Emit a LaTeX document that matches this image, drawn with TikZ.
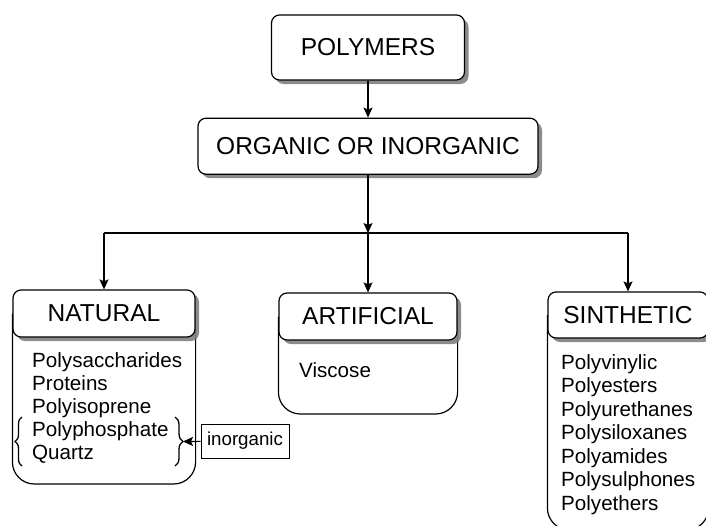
\documentclass[tikz,border=0pt]{standalone}
\usepackage{fontspec}
\setmainfont{Liberation Sans}
\usetikzlibrary{positioning, arrows.meta, shadows, backgrounds, decorations.pathreplacing}
\tikzset{
>={Stealth[length=10pt,width=9pt,inset=2pt]}, % makes the arrow heads bold
link/.style={->, line width=1.2pt}, % connectors between the boxes
head/.style={draw, fill=white, line width=1.2pt, rounded corners=8pt,
  drop shadow={shadow xshift=4pt, shadow yshift=-4pt, fill=black!50, opacity=.9},
  font=\fontsize{24.5}{28}\selectfont}, % sets the properties for each title box
body/.style={line width=1.2pt, rounded corners=22pt}, % the open box under a title
item/.style={font=\fontsize{20.6}{23}\selectfont, inner sep=0pt, anchor=base west}, % one line of a list
}

\begin{document}
\begin{tikzpicture}[x=1pt, y=-1pt]
    \useasboundingbox (0,0) rectangle (706,525);
    \clip (0,0) rectangle (706,525);

    \node[head, minimum width=193pt, minimum height=65pt] (poly) at (368,47.5) {POLYMERS};
    \node[head, minimum width=340pt, minimum height=56pt, below=37pt of poly] (org) {ORGANIC OR INORGANIC};
    \coordinate (split) at (368,233);

    \node[head, minimum width=182pt, minimum height=47pt] (nat) at (104,313.5) {NATURAL};
    \node[head, minimum width=178pt, minimum height=47pt] (art) at (368,316.5) {ARTIFICIAL};
    \node[head, minimum width=160pt, minimum height=46pt] (sin) at (628,315) {SINTHETIC};

    \begin{scope}[on background layer]
    \draw[body] (nat.west) -- (nat.west |- 0,484) -- (nat.east |- 0,484) -- (nat.east);
    \draw[body] (art.west) -- (art.west |- 0,414) -- (art.east |- 0,414) -- (art.east);
    \draw[body] (sin.west) -- (sin.west |- 0,530) -- (sin.east |- 0,530) -- (sin.east);
    \end{scope}

    \foreach \name [count=\i] in {Polysaccharides, Proteins, Polyisoprene, Polyphosphate, Quartz}
      \node[item] (nat\i) at (32, 367+23*\i-23) {\name};
    \node[item] (art1) at (299,377) {Viscose};
    \foreach \name [count=\i] in {Polyvinylic, Polyesters, Polyurethanes, Polysiloxanes, Polyamides, Polysulphones, Polyethers}
      \node[item] (sin\i) at (561, 369+23.5*\i-23.5) {\name};

    \draw[line width=1.3pt, decorate, decoration={brace, amplitude=7pt}] (22,466) -- (22,417);
    \draw[line width=1.3pt, decorate, decoration={brace, amplitude=8pt}] (175,417) -- (175,466);
    \coordinate (brtip) at (183,441.5);
    \node[draw, line width=1pt, font=\fontsize{18.7}{22}\selectfont, minimum width=88pt, minimum height=34pt, inner sep=2pt] (inorg) at (245,441) {inorganic};

    \draw[link] (poly) -- (org);
    \draw[link] (org) -- (split);
    \draw[line width=1.2pt] (split -| nat.north) -- (split -| sin.north);
    \draw[link] (split -| nat.north) -- (nat);
    \draw[link] (split) -- (art);
    \draw[link] (split -| sin.north) -- (sin);
    \draw[link] (inorg) -- (brtip);

  \end{tikzpicture}
\end{document}
